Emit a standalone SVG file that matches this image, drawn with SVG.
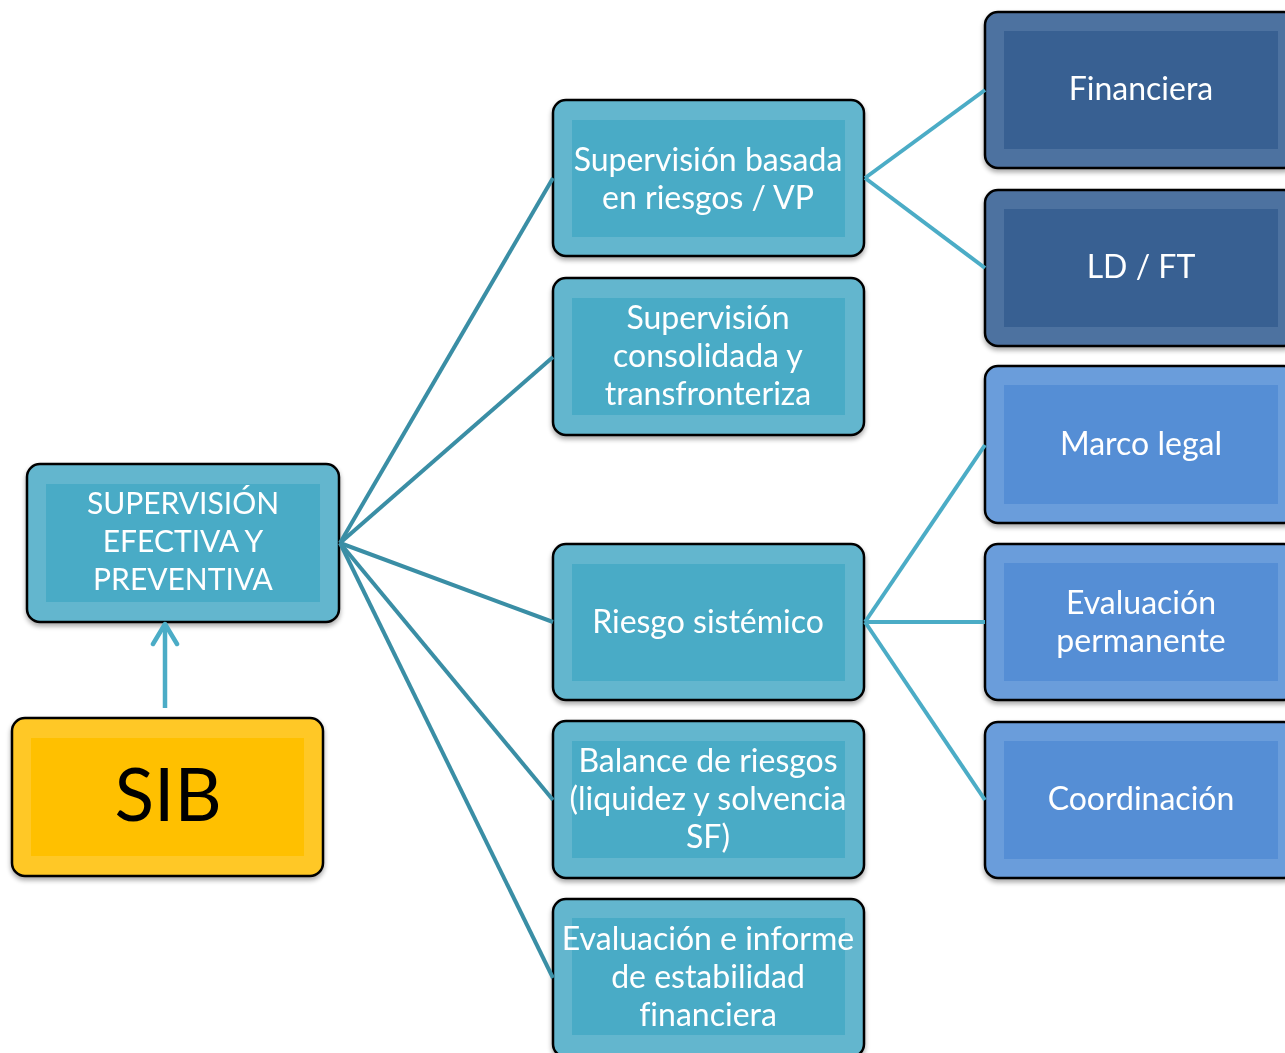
<svg xmlns="http://www.w3.org/2000/svg" width="1285" height="1053" viewBox="0 0 1285 1053">
<defs>
<filter id="sh" x="-10%" y="-10%" width="120%" height="130%">
<feGaussianBlur in="SourceAlpha" stdDeviation="2.5"/>
<feOffset dx="0" dy="3" result="b"/>
<feComponentTransfer><feFuncA type="linear" slope="0.35"/></feComponentTransfer>
<feMerge><feMergeNode/><feMergeNode in="SourceGraphic"/></feMerge>
</filter>
<marker id="arr" markerWidth="28" markerHeight="30" refX="23" refY="15" orient="auto" markerUnits="userSpaceOnUse" viewBox="0 0 28 30">
<path d="M3,3 L23,15 L3,27" fill="none" stroke="#4BACC6" stroke-width="4.5" stroke-linecap="round" stroke-linejoin="round"/>
</marker>
</defs>
<style>
.o{stroke:#000;stroke-width:2.5}
.teal .o{fill:#63B6CE}.teal .i{fill:#4AABC6}
.dark .o{fill:#4E72A0}.dark .i{fill:#376092}
.lb .o{fill:#6A9DDB}.lb .i{fill:#558ED5}
.gold .o{fill:#FFC827}.gold .i{fill:#FFC000}
text{font-family:Lato,"Open Sans","Liberation Sans",sans-serif;fill:#fff;text-anchor:middle;font-size:32px;font-variant-ligatures:none}
.root text{font-size:30px}
.c1{stroke:#3A8EA5;stroke-width:4;fill:none}
.c2{stroke:#4BACC6;stroke-width:4;fill:none}
</style>
<rect width="1285" height="1053" fill="#fff"/>
<g id="root" class="teal root" filter="url(#sh)">
<rect class="o" x="27" y="464" width="312" height="158" rx="13"/>
<rect class="i" x="46" y="484" width="274" height="118"/>
<text x="183" y="514">SUPERVISIÓN</text>
<text x="183" y="552">EFECTIVA Y</text>
<text x="183" y="590">PREVENTIVA</text>
</g>
<g id="sib" class="gold" filter="url(#sh)">
<rect class="o" x="12" y="718" width="311" height="158" rx="13"/>
<rect class="i" x="31" y="738" width="273" height="118"/>
<text x="168" y="821" style="fill:#000;font-size:73px">SIB</text>
</g>
<g id="n1" class="teal" filter="url(#sh)">
<rect class="o" x="553" y="100" width="311" height="156" rx="13"/>
<rect class="i" x="572" y="120" width="273" height="117"/>
<text x="708" y="171">Supervisión basada</text>
<text x="708" y="209">en riesgos / VP</text>
</g>
<g id="n2" class="teal" filter="url(#sh)">
<rect class="o" x="553" y="278" width="311" height="157" rx="13"/>
<rect class="i" x="572" y="298" width="273" height="117"/>
<text x="708" y="329">Supervisión</text>
<text x="708" y="367">consolidada y</text>
<text x="708" y="405">transfronteriza</text>
</g>
<g id="n3" class="teal" filter="url(#sh)">
<rect class="o" x="553" y="544" width="311" height="156" rx="13"/>
<rect class="i" x="572" y="564" width="273" height="117"/>
<text x="708" y="633">Riesgo sistémico</text>
</g>
<g id="n4" class="teal" filter="url(#sh)">
<rect class="o" x="553" y="721" width="311" height="157" rx="13"/>
<rect class="i" x="572" y="741" width="273" height="117"/>
<text x="708" y="772">Balance de riesgos</text>
<text x="708" y="810">(liquidez y solvencia</text>
<text x="708" y="848">SF)</text>
</g>
<g id="n5" class="teal" filter="url(#sh)">
<rect class="o" x="553" y="899" width="311" height="158" rx="13"/>
<rect class="i" x="572" y="918" width="273" height="117"/>
<text x="708" y="950">Evaluación e informe</text>
<text x="708" y="988">de estabilidad</text>
<text x="708" y="1026">financiera</text>
</g>
<g id="r1" class="dark" filter="url(#sh)">
<rect class="o" x="985" y="12" width="312" height="156" rx="13"/>
<rect class="i" x="1004" y="31" width="274" height="118"/>
<text x="1141" y="100">Financiera</text>
</g>
<g id="r2" class="dark" filter="url(#sh)">
<rect class="o" x="985" y="190" width="312" height="156" rx="13"/>
<rect class="i" x="1004" y="209" width="274" height="118"/>
<text x="1141" y="278">LD / FT</text>
</g>
<g id="r3" class="lb" filter="url(#sh)">
<rect class="o" x="985" y="366" width="312" height="157" rx="13"/>
<rect class="i" x="1004" y="385" width="274" height="119"/>
<text x="1141" y="455">Marco legal</text>
</g>
<g id="r4" class="lb" filter="url(#sh)">
<rect class="o" x="985" y="544" width="312" height="156" rx="13"/>
<rect class="i" x="1004" y="563" width="274" height="118"/>
<text x="1141" y="614">Evaluación</text>
<text x="1141" y="652">permanente</text>
</g>
<g id="r5" class="lb" filter="url(#sh)">
<rect class="o" x="985" y="722" width="312" height="156" rx="13"/>
<rect class="i" x="1004" y="741" width="274" height="118"/>
<text x="1141" y="810">Coordinación</text>
</g>
<g id="connectors">
<path class="c1" d="M340,543 L553,178"/>
<path class="c1" d="M340,543 L553,357"/>
<path class="c1" d="M340,543 L553,622"/>
<path class="c1" d="M340,543 L553,800"/>
<path class="c1" d="M340,543 L553,978"/>
<path class="c2" d="M865,178 L985,90"/>
<path class="c2" d="M865,178 L985,268"/>
<path class="c2" d="M865,622 L985,445"/>
<path class="c2" d="M865,622 L985,622"/>
<path class="c2" d="M865,622 L985,800"/>
<path d="M165,708 L165,624" stroke="#4BACC6" stroke-width="4.5" fill="none" marker-end="url(#arr)"/>
</g>
</svg>
